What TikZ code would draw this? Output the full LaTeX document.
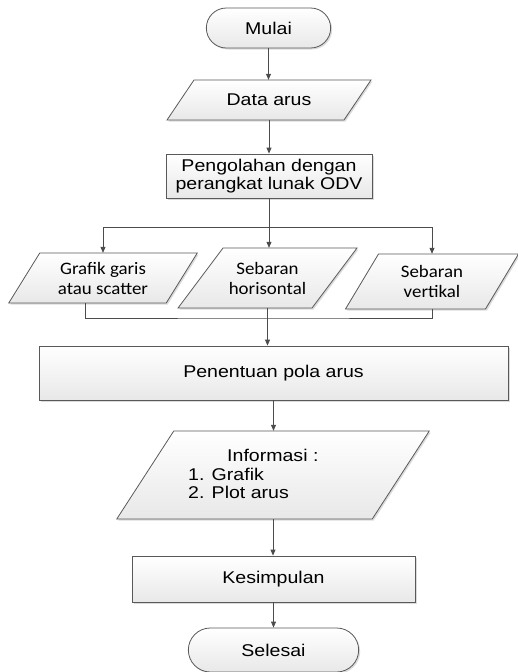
\documentclass[tikz,border=0pt]{standalone}
\usepackage{fontspec}
\setmainfont{Liberation Sans}[FakeStretch=1.15]
\newfontfamily\calfont{Carlito}[FakeStretch=1.08]
\usetikzlibrary{arrows.meta,shapes.misc,shadows}

\tikzset{
  base/.style={draw=black!65, line width=0.8pt, top color=white, bottom color=black!9,
    drop shadow={shadow xshift=1.5pt, shadow yshift=-1.5pt, fill=black!35, opacity=0.4}},
  armf/.style={font=\fontsize{17}{18}\selectfont},
  calf/.style={font=\calfont\fontsize{17.5}{20}\selectfont},
  procbox/.style={base, rectangle, inner sep=3pt, armf, align=center},
  termbox/.style={base, rounded rectangle, armf},
  parashape/.style={base},
  paratext/.style={draw=none, rectangle, inner sep=3pt, align=center},
  line/.style={draw=black!70, line width=0.8pt},
  arr/.style={line, -{Triangle[length=6pt,width=5pt]}},
}

\newcommand\paranode[8]{%
  \path[parashape] ({#2-#4/2+#6},{#3-#5/2}) -- ({#2+#4/2+#6},{#3-#5/2})
     -- ({#2+#4/2-#6},{#3+#5/2}) -- ({#2-#4/2-#6},{#3+#5/2}) -- cycle;
  \node[paratext, #7, minimum width=#4pt, minimum height=#5pt] (#1) at (#2,#3) {#8};
}

\begin{document}
\begin{tikzpicture}[x=1pt,y=-1pt]
\useasboundingbox (0,0) rectangle (517,672);

\node[termbox, minimum width=131pt, minimum height=40pt] (start) at (268.5,28) {Mulai};
\paranode{data}{269}{100}{177}{40}{13.5}{armf}{Data arus}
\node[procbox, minimum width=206pt, minimum height=44pt] (odv) at (269,176) {Pengolahan dengan\\perangkat lunak ODV};
\paranode{graf}{103}{278}{157.5}{50}{15.5}{calf}{Grafik garis\\atau scatter}
\paranode{hor}{267.5}{278}{134}{60}{22.5}{calf}{Sebaran\\horisontal}
\paranode{ver}{432}{281.5}{140}{55}{16.5}{calf}{Sebaran\\vertikal}
\node[procbox, minimum width=469pt, minimum height=54pt] (pola) at (273.5,373) {Penentuan pola arus};
\paranode{info}{273}{475}{255.5}{88}{28.5}{armf}{}
\node[anchor=west, align=left, inner sep=0pt, font=\fontsize{17}{18.5}\selectfont] (infotxt) at (188,474) {\hspace*{39pt}Informasi :\\1. Grafik\\2. Plot arus};
\node[procbox, minimum width=283pt, minimum height=46pt] (kes) at (273.5,579) {Kesimpulan};
\node[termbox, minimum width=177pt, minimum height=44pt] (stop) at (273.5,650) {Selesai};

\coordinate (br) at (269,227);
\coordinate (jn) at (268,318);

\draw[arr] (start.south) -- (start.south |- data.north);
\draw[arr] (data.south) -- (data.south |- odv.north);
\draw[arr] (odv.south) -- (odv.south |- hor.north);
\draw[arr] (br) -| (graf.north);
\draw[arr] (br) -| (ver.north);
\draw[line] ([xshift=-18pt]graf.south) |- (jn) -| (ver.south);
\draw[arr] (hor.south) -- (hor.south |- pola.north);
\draw[arr] (pola.south) -- (pola.south |- info.north);
\draw[arr] (info.south) -- (info.south |- kes.north);
\draw[arr] (kes.south) -- (kes.south |- stop.north);
\end{tikzpicture}
\end{document}
